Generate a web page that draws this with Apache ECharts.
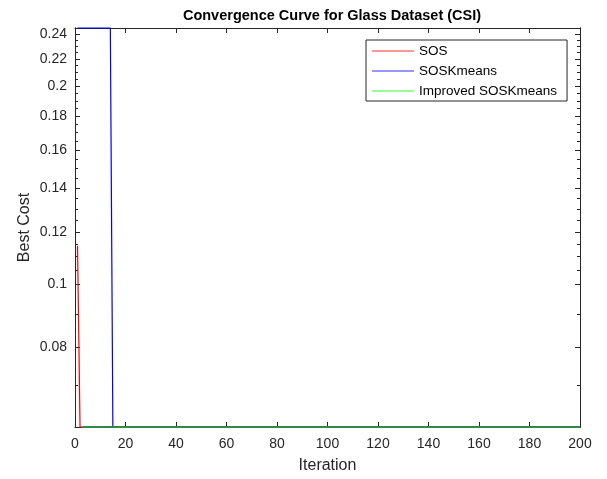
<!DOCTYPE html>
<html>
<head>
<meta charset="utf-8">
<title>Convergence Curve for Glass Dataset (CSI)</title>
<script src="https://cdn.jsdelivr.net/npm/echarts@6/dist/echarts.min.js"></script>
<style>
  html, body { margin: 0; padding: 0; background: #fff; }
  #chart { width: 607px; height: 479px; }
</style>
</head>
<body>
<div id="chart"></div>
<script>
// iterations where each curve changes, and the best cost there
const iterSOS = [1, 2, 200];
const costSOS = [0.1143, 0.0605, 0.0605];
const iterSOSK = [1, 14, 15, 200];
const costSOSK = [0.2453, 0.2453, 0.0605, 0.0605];
const iterImproved = [3, 200];
const costImproved = [0.0605, 0.0605];

const xTicks = [0, 20, 40, 60, 80, 100, 120, 140, 160, 180, 200];
const yTicks = [0.08, 0.1, 0.12, 0.14, 0.16, 0.18, 0.2, 0.22, 0.24];
const yMinorTicks = [0.07, 0.09, 0.105, 0.11, 0.115, 0.125, 0.13, 0.135, 0.145, 0.15, 0.155,
  0.165, 0.17, 0.175, 0.185, 0.19, 0.195, 0.205, 0.21, 0.215, 0.225, 0.23, 0.235];

const yMin = 0.0605, yMax = 0.2453;

function pairs(xs, ys) {
  return xs.map((x, i) => [x, ys[i]]);
}

const chart = echarts.init(document.getElementById('chart'));
const font = 'Liberation Sans, Arial, Helvetica, sans-serif';
const axisColor = '#262626';

// log y axis helper, used for the main axis and the tick-only copies
function logAxis(extra) {
  return Object.assign({
    type: 'log',
    logBase: 10,
    min: yMin,
    max: yMax,
    splitLine: { show: false },
    axisLine: { show: true, lineStyle: { color: axisColor, width: 1 } },
    axisLabel: { show: false },
    axisTick: { show: false }
  }, extra);
}

const option = {
  animation: false,
  textStyle: { fontFamily: font },
  title: {
    text: 'Convergence Curve for Glass Dataset (CSI)',
    left: 327,
    textAlign: 'center',
    top: 3,
    textStyle: { fontSize: 14.5, fontWeight: 'bold', color: '#000', fontFamily: font }
  },
  grid: { left: 75, right: 27, top: 28, bottom: 51, containLabel: false },
  legend: {
    orient: 'vertical',
    left: 366,
    top: 40,
    padding: [4, 10, 3, 6],
    itemWidth: 42,
    itemHeight: 1,
    itemGap: 6,
    borderColor: '#262626',
    borderWidth: 1,
    backgroundColor: '#fff',
    textStyle: { fontSize: 13.5, color: '#000', fontFamily: font },
    data: [
      { name: 'SOS', icon: 'rect' },
      { name: 'SOSKmeans', icon: 'rect' },
      { name: 'Improved SOSKmeans', icon: 'rect' }
    ]
  },
  xAxis: [
    {
      type: 'value',
      min: 0,
      max: 200,
      interval: 20,
      name: 'Iteration',
      nameLocation: 'middle',
      nameGap: 31,
      nameMoveOverlap: false,
      nameTextStyle: { fontSize: 16, color: axisColor },
      splitLine: { show: false },
      axisLine: { onZero: false, lineStyle: { color: axisColor } },
      axisTick: { inside: true, length: 5, lineStyle: { color: axisColor } },
      axisLabel: { fontSize: 14, color: axisColor, margin: 10 }
    },
    {
      type: 'value',
      position: 'top',
      min: 0,
      max: 200,
      interval: 20,
      splitLine: { show: false },
      axisLine: { onZero: false, lineStyle: { color: axisColor } },
      axisTick: { inside: true, length: 5, lineStyle: { color: axisColor } },
      axisLabel: { show: false }
    }
  ],
  yAxis: [
    logAxis({
      position: 'left',
      name: 'Best Cost',
      nameLocation: 'middle',
      nameGap: 42,
      nameMoveOverlap: false,
      nameTextStyle: { fontSize: 16, color: axisColor },
      axisTick: { show: true, inside: true, length: 5, customValues: yTicks, lineStyle: { color: axisColor } },
      axisLabel: {
        show: true,
        customValues: yTicks,
        fontSize: 14,
        color: axisColor,
        margin: 8,
        formatter: v => String(+(+v).toFixed(3))
      }
    }),
    logAxis({
      position: 'left',
      axisTick: { show: true, inside: true, length: 3, customValues: yMinorTicks, lineStyle: { color: axisColor } }
    }),
    logAxis({
      position: 'right',
      axisTick: { show: true, inside: true, length: 5, customValues: yTicks, lineStyle: { color: axisColor } }
    }),
    logAxis({
      position: 'right',
      axisTick: { show: true, inside: true, length: 3, customValues: yMinorTicks, lineStyle: { color: axisColor } }
    })
  ],
  series: [
    {
      name: 'SOS',
      type: 'line',
      data: pairs(iterSOS, costSOS),
      symbol: 'none',
      clip: false,
      color: '#ff3030',
      lineStyle: { width: 1.2, color: '#ff0000' },
      z: 3
    },
    {
      name: 'SOSKmeans',
      type: 'line',
      data: pairs(iterSOSK, costSOSK),
      symbol: 'none',
      clip: false,
      color: '#3030ff',
      lineStyle: { width: 1.2, color: '#0000ff' },
      z: 4
    },
    {
      name: 'Improved SOSKmeans',
      type: 'line',
      data: pairs(iterImproved, costImproved),
      symbol: 'none',
      clip: false,
      color: '#30ff30',
      lineStyle: { width: 2, color: '#2e8b45' },
      z: 5
    }
  ]
};

chart.setOption(option);
window.addEventListener('resize', () => {
  chart.resize();
});
</script>
</body>
</html>
